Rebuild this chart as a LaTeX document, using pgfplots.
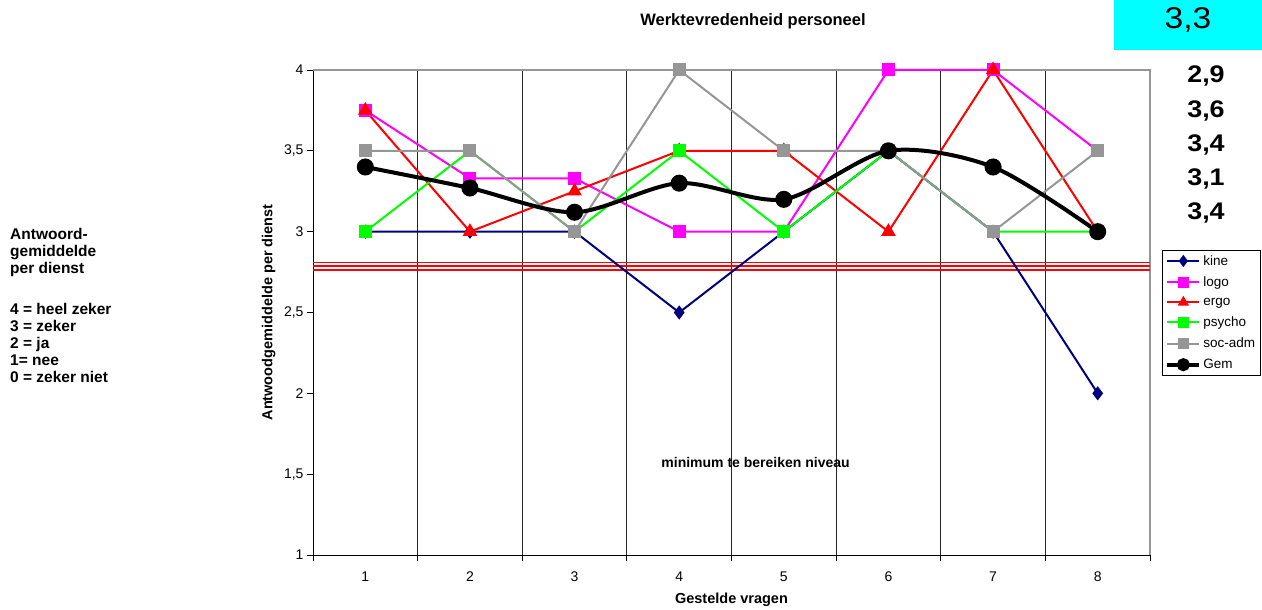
\documentclass[border=0pt]{standalone}
\usepackage{pgfplots}
\pgfplotsset{compat=1.18}
\usepackage{fontspec}
\setmainfont{Liberation Sans}
\definecolor{kine}{RGB}{0,0,128}
\definecolor{logo}{RGB}{255,0,255}
\definecolor{ergo}{RGB}{255,0,0}
\definecolor{psycho}{RGB}{0,255,0}
\definecolor{socadm}{RGB}{150,150,150}
\definecolor{cyanbox}{RGB}{0,255,255}
\begin{document}
\begin{tikzpicture}
\useasboundingbox (0,0) rectangle (1262pt,610pt);
% cyan box with overall score
\fill[cyanbox] (1114pt,560pt) rectangle (1262pt,610pt);
\node[anchor=base, font=\fontsize{30}{34}\selectfont] at (1188pt,581pt) {\scalebox{1.12}[1]{3,3}};
% per-service scores
\node[anchor=base, font=\fontsize{24}{28}\selectfont\bfseries] at (1206pt,527pt) {\scalebox{1.12}[1]{2,9}};
\node[anchor=base, font=\fontsize{24}{28}\selectfont\bfseries] at (1206pt,492pt) {\scalebox{1.12}[1]{3,6}};
\node[anchor=base, font=\fontsize{24}{28}\selectfont\bfseries] at (1206pt,458pt) {\scalebox{1.12}[1]{3,4}};
\node[anchor=base, font=\fontsize{24}{28}\selectfont\bfseries] at (1206pt,424pt) {\scalebox{1.12}[1]{3,1}};
\node[anchor=base, font=\fontsize{24}{28}\selectfont\bfseries] at (1206pt,390pt) {\scalebox{1.12}[1]{3,4}};
% title
\node[font=\fontsize{16.5}{19}\selectfont\bfseries] at (753pt,589pt) {Werktevredenheid personeel};
% left text
\node[anchor=north west, align=left, inner sep=0pt, font=\fontsize{15.5}{17}\selectfont\bfseries] at (10pt,382pt) {Antwoord-\\gemiddelde\\per dienst\\[24pt]4 = heel zeker\\3 = zeker\\2 = ja\\1= nee\\0 = zeker niet};
\begin{axis}[
  at={(313pt,55pt)}, anchor=south west, scale only axis,
  width=837pt, height=485pt,
  xmin=0.5, xmax=8.5, ymin=1, ymax=4,
  axis x line*=bottom, axis y line*=left,
  axis line style={black, line width=0.9pt},
  xtick={1,...,8}, major x tick style={draw=none},
  minor xtick={0.5,1.5,...,8.5},
  minor x tick style={black, line width=0.9pt},
  minor x grid style={black!85, line width=0.9pt},
  xminorgrids=true,
  ytick={1,1.5,...,4},
  y tick style={black, line width=0.9pt},
  tick align=outside,
  major tick length=6pt, minor tick length=6pt,
  /pgf/number format/assume math mode=true,
  yticklabel style={/pgf/number format/use comma, /pgf/number format/fixed, font=\fontsize{14}{16}\selectfont},
  xticklabel style={font=\fontsize{14}{16}\selectfont, yshift=-7pt},
  xlabel={Gestelde vragen},
  xlabel style={font=\fontsize{14.5}{17}\selectfont\bfseries, at={(axis description cs:0.5,-0.092)}, anchor=center},
  ylabel={Antwoodgemiddelde per dienst},
  ylabel style={font=\fontsize{14.5}{17}\selectfont\bfseries, at={(axis description cs:-0.053,0.5)}, anchor=center},
  clip=false,
  legend style={at={(axis description cs:1.0143,0.629)}, anchor=north west, draw=black, line width=0.8pt,
    font=\fontsize{13.5}{15}\selectfont, row sep=6pt, inner sep=3pt},
  legend cell align=left,
  legend image code/.code={\draw[mark repeat=2,mark phase=2,#1,mark size=4.5pt] plot coordinates {(0pt,0pt) (16pt,0pt) (32pt,0pt)};},
]
\draw[socadm, line width=1.2pt] (axis cs:0.5,4) -- (axis cs:8.5,4) -- (axis cs:8.5,1);
\addplot[ergo, line width=1.6pt, forget plot] coordinates {(0.5,2.81) (8.5,2.81)};
\addplot[ergo, line width=1.6pt, forget plot] coordinates {(0.5,2.786) (8.5,2.786)};
\addplot[ergo, line width=1.6pt, forget plot] coordinates {(0.5,2.762) (8.5,2.762)};
\node[font=\fontsize{14}{16}\selectfont\bfseries] at (axis cs:4.73,1.57) {minimum te bereiken niveau};
\addplot[kine, line width=2pt, mark=diamond*, mark size=5.5pt, mark options={solid}] coordinates {(1,3) (2,3) (3,3) (4,2.5) (5,3) (6,3.5) (7,3) (8,2)};
\addplot[logo, line width=2pt, mark=square*, mark size=5.5pt] coordinates {(1,3.75) (2,3.33) (3,3.33) (4,3) (5,3) (6,4) (7,4) (8,3.5)};
\addplot[ergo, line width=2pt, mark=triangle*, mark size=6.5pt] coordinates {(1,3.75) (2,3) (3,3.25) (4,3.5) (5,3.5) (6,3) (7,4) (8,3)};
\addplot[psycho, line width=2pt, mark=square*, mark size=5.5pt] coordinates {(1,3) (2,3.5) (3,3) (4,3.5) (5,3) (6,3.5) (7,3) (8,3)};
\addplot[socadm, line width=2pt, mark=square*, mark size=5.5pt] coordinates {(1,3.5) (2,3.5) (3,3) (4,4) (5,3.5) (6,3.5) (7,3) (8,3.5)};
\addplot[black, line width=4pt, smooth, mark=*, mark size=6.5pt] coordinates {(1,3.4) (2,3.27) (3,3.12) (4,3.3) (5,3.2) (6,3.5) (7,3.4) (8,3.0)};
\legend{kine,logo,ergo,psycho,soc-adm,Gem}
\end{axis}
\end{tikzpicture}
\end{document}
